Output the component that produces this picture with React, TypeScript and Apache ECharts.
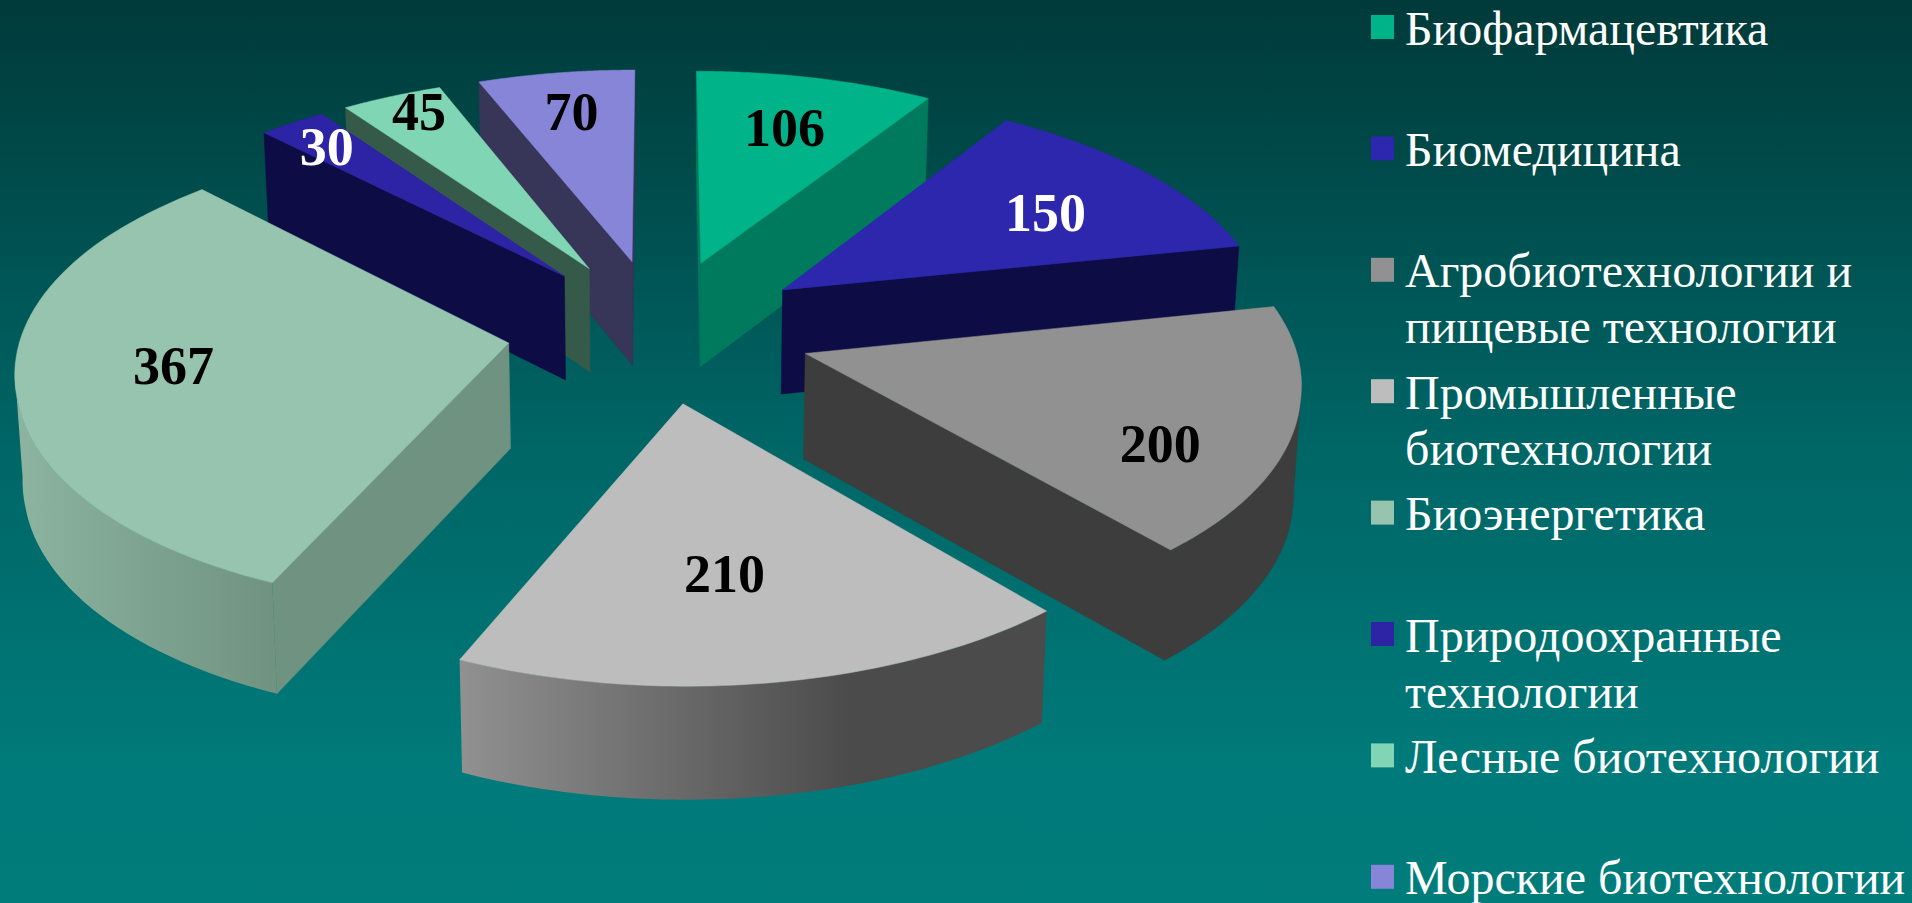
import React, { useEffect, useRef } from "react";
import * as echarts from "echarts";

// Sector names, written with their line breaks as they appear in the legend
const categories = [
  "Биофармацевтика",
  "Биомедицина",
  "Агробиотехнологии и\nпищевые технологии",
  "Промышленные\nбиотехнологии",
  "Биоэнергетика",
  "Природоохранные\nтехнологии",
  "Лесные биотехнологии",
  "Морские биотехнологии",
];
const values = [106, 150, 200, 210, 367, 30, 45, 70];

// Palette: top face, radial wall, label ink
const topColors = ["#00b388", "#2c27ad", "#919191", "#bdbdbd", "#97c4ae", "#2c24a5", "#80d5b4", "#8785d8"];
const wallColors = ["#007a5c", "#0e0c45", "#3d3d3d", "#4b4b4b", "#6f9380", "#0e0c45", "#365a4a", "#373558"];
const labelColors = ["#000", "#fff", "#000", "#000", "#000", "#fff", "#000", "#000"];
const legendColors = ["#00b388", "#2c27ad", "#919191", "#bdbdbd", "#97c4ae", "#2c24a5", "#80d5b4", "#8785d8"];

// Label placement inside each top face: radial fraction and angular shift in degrees
const labelRadius = [0.7, 0.68, 0.765, 0.63, 0.675, 0.834, 0.88, 0.769];
const labelTurn = [0, 2.5, 9.5, 2, 2, -1, 1.2, 0];

// Horizontal shading of the rim: [x from, x to, colour from, colour to]
const rimShades: Record<number, [number, number, string, string]> = {
  3: [463, 850, "#909090", "#4b4b4b"],
  4: [15, 275, "#8cb4a1", "#6f9380"],
};

// Projection of the pie plane onto the page
const CX = 659.5;
const CY = 330;
const SCALE_X = 495;
const SCALE_Y = 232;
const PERSPECTIVE = 0.12;
const EXPLODE = 0.31;
const RADIUS = 0.99;
const STEPS = 64;

const total = values.reduce((a, b) => a + b, 0);
const startOf = (i: number) => values.slice(0, i).reduce((a, b) => a + b, 0);
const toRad = (v: number) => (v / total) * Math.PI * 2;

function project(u: number, v: number) {
  const s = 1 / (1 - v * PERSPECTIVE);
  // Nearer points spread a little less sideways than the vertical foreshortening implies
  const pull = 1 - 0.012 * Math.min(1, Math.max(0, (v + 0.4) / 0.7));
  return { x: CX + u * SCALE_X * s * pull, y: CY + v * SCALE_Y * s, s };
}
// Same point on the underside of the slab
function drop(p: { x: number; y: number; s: number }) {
  return [CX + (p.x - CX) * 0.988, p.y + 105 + (p.s - 1) * 46];
}

function renderSlice(params: any, api: any) {
  const i = params.dataIndex;
  const a0 = toRad(startOf(i));
  const a1 = a0 + toRad(api.value(0));
  const mid = (a0 + a1) / 2;
  const ou = EXPLODE * Math.sin(mid);
  const ov = -EXPLODE * Math.cos(mid);
  const rank = Math.round((ov + 1) * 100) * 10;

  const apex = project(ou, ov);
  const rim: { x: number; y: number; s: number }[] = [];
  for (let k = 0; k <= STEPS; k++) {
    const t = a0 + ((a1 - a0) * k) / STEPS;
    rim.push(project(ou + RADIUS * Math.sin(t), ov - RADIUS * Math.cos(t)));
  }

  const children: any[] = [];

  // The curved rim goes first so that the flat walls cover its seam
  const facing = rim.filter((p, k) =>
    (k < STEPS && rim[k + 1].x < p.x) || (k > 0 && p.x < rim[k - 1].x)
  );
  if (facing.length > 1) {
    const shade = rimShades[i];
    const fill = shade
      ? new echarts.graphic.LinearGradient(
          shade[0], 0, shade[1], 0,
          [{ offset: 0, color: shade[2] }, { offset: 1, color: shade[3] }],
          true
        )
      : wallColors[i];
    children.push({
      type: "polygon",
      z2: rank,
      shape: {
        points: [
          ...facing.map((p) => [p.x, p.y]),
          ...facing.slice().reverse().map(drop),
        ],
      },
      style: { fill, stroke: shade ? "none" : wallColors[i], lineWidth: 0.5 },
    });
  }

  const wall = (p: any, q: any) => {
    children.push({
      type: "polygon",
      z2: rank + 1,
      shape: { points: [[p.x, p.y], [q.x, q.y], drop(q), drop(p)] },
      style: { fill: wallColors[i], stroke: wallColors[i], lineWidth: 0.5 },
    });
  };

  // A wall shows only where its top edge runs right-to-left in clockwise order
  const first = rim[0];
  const last = rim[STEPS];
  if (first.x < apex.x) wall(apex, first);
  if (apex.x < last.x) wall(last, apex);

  children.push({
    type: "polygon",
    z2: rank + 2,
    shape: { points: [[apex.x, apex.y], ...rim.map((p) => [p.x, p.y])] },
    style: { fill: topColors[i], stroke: topColors[i], lineWidth: 0.5 },
  });

  const la = mid + (labelTurn[i] * Math.PI) / 180;
  const lp = project(ou + labelRadius[i] * Math.sin(la), ov - labelRadius[i] * Math.cos(la));
  children.push({
    type: "text",
    z2: 5000,
    style: {
      x: lp.x,
      y: lp.y,
      text: String(api.value(0)),
      fill: labelColors[i],
      font: "bold 54px 'Liberation Serif'",
      align: "center",
      verticalAlign: "middle",
    },
  });

  return { type: "group", children };
}

// Legend rows sit on a regular step
const LEGEND_TOP = 15;
const LEGEND_STEP = 121.4;
const legendGraphics = categories.flatMap((name, i) => [
  {
    type: "rect",
    x: 1371,
    y: LEGEND_TOP + LEGEND_STEP * i,
    shape: { width: 23, height: 24 },
    style: { fill: legendColors[i] },
  },
  {
    type: "text",
    x: 1405,
    y: LEGEND_TOP - 15 + LEGEND_STEP * i,
    style: {
      text: name,
      fill: "#ffffff",
      font: "48px 'Liberation Serif'",
      lineHeight: 56,
      verticalAlign: "top",
    },
  },
]);

export default function App() {
  const ref = useRef<HTMLDivElement>(null);
  useEffect(() => {
    const chart = echarts.init(ref.current!, undefined, { renderer: "svg" });
    chart.setOption({
      animation: false,
      backgroundColor: new echarts.graphic.LinearGradient(0, 0, 0, 1, [
        { offset: 0, color: "#003a3a" },
        { offset: 0.5, color: "#006666" },
        { offset: 0.85, color: "#007a7a" },
        { offset: 1, color: "#007c7b" },
      ]),
      graphic: legendGraphics,
      series: [
        {
          type: "custom",
          coordinateSystem: "none",
          renderItem: renderSlice,
          data: values.map((v, i) => ({ name: categories[i], value: [v] })),
          silent: true,
        },
      ],
    });
    return () => chart.dispose();
  }, []);
  return (
    <div
      ref={ref}
      style={{ position: "fixed", left: 0, top: 0, width: 1912, height: 903 }}
    />
  );
}
